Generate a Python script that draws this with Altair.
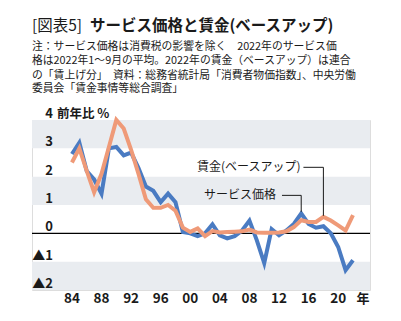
import altair as alt
import pandas as pd

years = list(range(1984, 2023))
service = [2.8, 3.2, 2.2, 1.9, 1.4, 3.0, 3.05, 2.75, 2.85, 2.3,
           1.65, 1.5, 1.1, 1.4, 1.1, 0.05, 0.0, -0.1, 0.0, 0.32,
           -0.07, -0.18, -0.1, 0.1, 0.45, -0.25, -1.05, 0.15, -0.07, 0.1,
           0.33, 0.7, 0.33, 0.2, 0.25, 0.0, -0.48, -1.3, -0.95]
wage = [2.5, 3.0, 2.2, 1.45, 2.1, 3.05, 4.0, 3.7, 2.95, 2.1,
        1.2, 0.9, 0.9, 1.0, 0.8, 0.2, 0.05, 0.17, -0.1, 0.08,
        0.03, 0.05, 0.06, 0.07, 0.13, 0.03, 0.02, 0.02, 0.03, 0.07,
        0.22, 0.46, 0.4, 0.4, 0.58, 0.45, 0.28, 0.1, 0.64]
series_names = ["サービス価格", "賃金(ベースアップ)"]
series_colors = ["#4a7bc2", "#ef9a78"]

y_ticks = [4, 3, 2, 1, 0, -1, -2]
y_tick_labels = ["4", "3", "2", "1", "0", "▲1", "▲2"]
x_ticks = [1984, 1988, 1992, 1996, 2000, 2004, 2008, 2012, 2016, 2020]
x_tick_labels = ["84", "88", "92", "96", "00", "04", "08", "12", "16", "20"]
bands_lo = [3, 1, -2]
bands_hi = [4, 2, -1]

title_prefix = "[図表5]"
title_main = "サービス価格と賃金(ベースアップ)"
note_lines = [
    "注：サービス価格は消費税の影響を除く　2022年のサービス価",
    "格は2022年1～9月の平均。2022年の賃金（ベースアップ）は連合",
    "の「賃上げ分」　資料：総務省統計局「消費者物価指数」、中央労働",
    "委員会「賃金事情等総合調査」",
]
note_y = [-73.3, -59.0, -44.5, -30.7]

# annotation: label, label year (right end), label value, anchor year, anchor value
ann_labels = ["賃金(ベースアップ)", "サービス価格"]
ann_label_x = [2014.9, 2011.6]
ann_label_y = [2.33, 1.34]
ann_line_start = [2015.3, 2012.4]
ann_anchor_x = [2018.0, 2015.0]
ann_anchor_y = [0.62, 0.76]

FONT = "Noto Sans CJK JP"
W, H = 338, 170
XDOM = [1978.6, 2024.3]

rows = []
for name, vals in zip(series_names, [service, wage]):
    for yr, v in zip(years, vals):
        rows.append({"year": yr, "value": v, "series": name})
df = pd.DataFrame(rows)

xs = alt.Scale(domain=XDOM, nice=False, zero=False)
ys = alt.Scale(domain=[-2, 4], nice=False, zero=False)

bands = alt.Chart(pd.DataFrame({"lo": bands_lo, "hi": bands_hi})).mark_rect(
    color="#e9ecf0").encode(
    x=alt.value(0), x2=alt.value(W),
    y=alt.Y("lo:Q", scale=ys, axis=None), y2="hi:Q")

zero = alt.Chart(pd.DataFrame({"v": [0]})).mark_rule(
    color="#000000", strokeWidth=1.2).encode(
    x=alt.value(0), x2=alt.value(W), y=alt.Y("v:Q", scale=ys, axis=None))

lines = alt.Chart(df).mark_line(strokeWidth=4, strokeJoin="miter").encode(
    x=alt.X("year:Q", scale=xs, axis=None),
    y=alt.Y("value:Q", scale=ys, axis=None),
    color=alt.Color("series:N", scale=alt.Scale(domain=series_names, range=series_colors),
                    legend=None),
    order=alt.Order("year:Q"),
)

xlab = alt.Chart(pd.DataFrame({"x": x_ticks, "t": x_tick_labels})).mark_text(
    align="center", baseline="middle", font=FONT, fontSize=13.5,
    fontWeight="bold", color="#1a1a1a").encode(
    x=alt.X("x:Q", scale=xs, axis=None), y=alt.value(179), text="t:N")

ylab = alt.Chart(pd.DataFrame({"v": y_ticks, "t": y_tick_labels})).mark_text(
    align="right", baseline="alphabetic", dy=-2, font=FONT, fontSize=13,
    fontWeight="bold", color="#1a1a1a").encode(
    x=alt.value(21), y=alt.Y("v:Q", scale=ys, axis=None), text="t:N")

unit = alt.Chart(pd.DataFrame({"v": [4], "t": ["前年比 %"]})).mark_text(
    align="left", baseline="alphabetic", dy=-2, font=FONT, fontSize=12.5,
    fontWeight="bold", color="#1a1a1a").encode(
    x=alt.value(25), y=alt.Y("v:Q", scale=ys, axis=None), text="t:N")

nen = alt.Chart(pd.DataFrame({"t": ["年"]})).mark_text(
    align="center", baseline="middle", font=FONT, fontSize=13,
    fontWeight="bold", color="#1a1a1a").encode(
    x=alt.value(331), y=alt.value(179), text="t:N")

adf = pd.DataFrame({"t": ann_labels, "lx": ann_label_x, "ly": ann_label_y,
                    "sx": ann_line_start, "ax": ann_anchor_x, "ay": ann_anchor_y})
ann_text = alt.Chart(adf).mark_text(
    align="right", baseline="middle", font=FONT, fontSize=12,
    color="#1a1a1a").encode(
    x=alt.X("lx:Q", scale=xs, axis=None), y=alt.Y("ly:Q", scale=ys, axis=None), text="t:N")
ann_h = alt.Chart(adf).mark_rule(color="#1a1a1a", strokeWidth=1).encode(
    x=alt.X("sx:Q", scale=xs, axis=None), x2="ax:Q", y=alt.Y("ly:Q", scale=ys, axis=None))
ann_v = alt.Chart(adf).mark_rule(color="#1a1a1a", strokeWidth=1).encode(
    x=alt.X("ax:Q", scale=xs, axis=None), y=alt.Y("ly:Q", scale=ys, axis=None), y2="ay:Q")

title_a = alt.Chart(pd.DataFrame({"t": [title_prefix]})).mark_text(
    align="left", baseline="middle", font=FONT, fontSize=15.5,
    color="#1a1a1a").encode(x=alt.value(0), y=alt.value(-94), text="t:N")
title_b = alt.Chart(pd.DataFrame({"t": [title_main]})).mark_text(
    align="left", baseline="middle", font=FONT, fontSize=15.5, fontWeight="bold",
    color="#1a1a1a").encode(x=alt.value(58), y=alt.value(-94), text="t:N")

note_layers = []
for txt, yy in zip(note_lines, note_y):
    note_layers.append(alt.Chart(pd.DataFrame({"t": [txt]})).mark_text(
        align="left", baseline="middle", font=FONT, fontSize=10.8,
        color="#1a1a1a").encode(x=alt.value(0), y=alt.value(yy), text="t:N"))

chart = alt.layer(bands, zero, lines, xlab, ylab, unit, nen, ann_h, ann_v, ann_text,
                  title_a, title_b, *note_layers).properties(
    width=W, height=H,
    padding={"left": 32, "top": 120, "right": 31, "bottom": 31},
    autosize=alt.AutoSizeParams(type="none"),
).configure_view(stroke=None).configure(background="white")

chart.save("out.html", embed_options={"renderer": "svg", "actions": False})
